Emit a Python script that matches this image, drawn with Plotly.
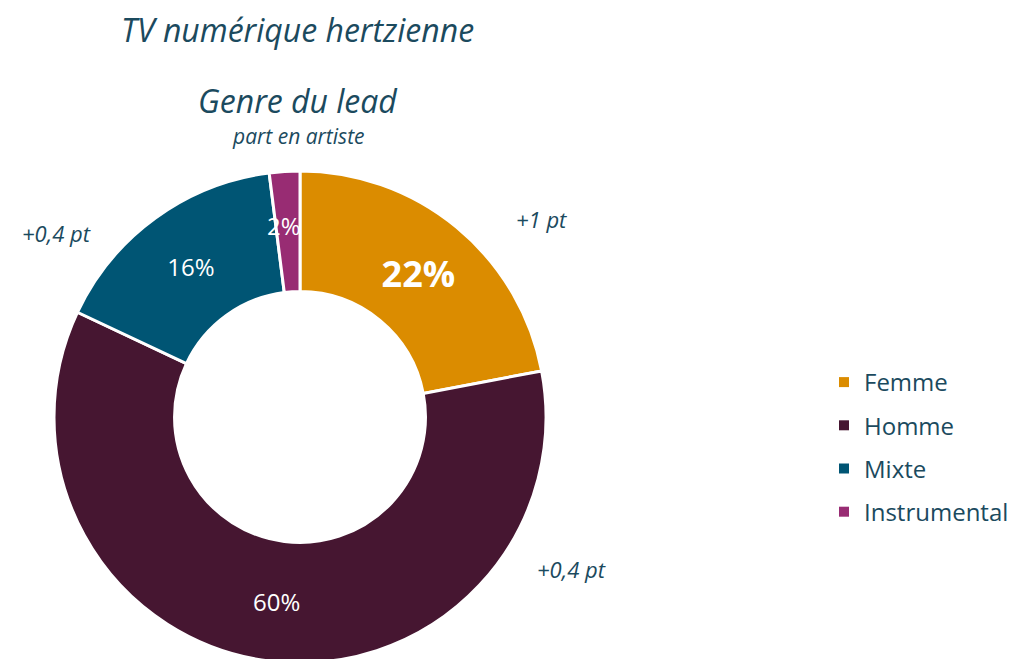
import plotly.graph_objects as go

categories = ["Femme", "Homme", "Mixte", "Instrumental"]
values = [22, 60, 16, 2]
colors = ["#DB8C00", "#461631", "#005574", "#982C73"]
slice_text = ["<b>22%</b>", "60%", "16%", ""]
small_label = "2%"
text_sizes = [36, 24, 24, 24]
evolution = ["+1 pt", "+0,4 pt", "+0,4 pt", ""]

TXT = "#1B4A5E"
FONT = "'Open Sans', sans-serif"

fig = go.Figure()
fig.add_trace(go.Pie(
    labels=categories, values=values, sort=False, direction="clockwise", rotation=0,
    hole=0.51, marker=dict(colors=colors, line=dict(color="white", width=3)),
    text=slice_text, textinfo="text", textposition="inside",
    insidetextorientation="horizontal",
    textfont=dict(color="white", size=text_sizes, family=FONT),
    domain=dict(x=[46 / 1023, 538 / 1023], y=[0.0, 1 - 159 / 659]),
    showlegend=False, hoverinfo="label+percent",
))

# legend entries via dummy traces (to control spacing)
for cat, col in zip(categories, colors):
    fig.add_trace(go.Scatter(
        x=[None], y=[None], mode="markers", name=cat,
        marker=dict(symbol="square", size=10, color=col),
        legendgroup=cat, showlegend=True,
    ))

anns = [
    dict(text="<i>TV numérique hertzienne</i>", x=289, y=22, size=32),
    dict(text="<i>Genre du lead</i>", x=290, y=92, size=32),
    dict(text="<i>part en artiste</i>", x=290, y=128, size=21),
    dict(text="<i>" + evolution[0] + "</i>", x=533, y=211, size=22),
    dict(text="<i>" + evolution[2] + "</i>", x=48, y=225, size=22),
    dict(text="<i>" + evolution[1] + "</i>", x=563, y=561, size=22),
]
annotations = [dict(text=a["text"], x=a["x"] / 1023, y=1 - a["y"] / 659,
                    xref="paper", yref="paper", showarrow=False,
                    xanchor="center", yanchor="middle",
                    font=dict(size=a["size"], color=TXT, family=FONT))
               for a in anns]
annotations.append(dict(text=small_label, x=276 / 1023, y=1 - 217 / 659,
                        xref="paper", yref="paper", showarrow=False,
                        xanchor="center", yanchor="middle",
                        font=dict(size=24, color="white", family=FONT)))

fig.update_layout(
    width=1023, height=659, margin=dict(l=0, r=0, t=0, b=0, autoexpand=False),
    paper_bgcolor="white", plot_bgcolor="white",
    font=dict(family=FONT, color=TXT),
    xaxis=dict(visible=False), yaxis=dict(visible=False),
    legend=dict(x=816 / 1023, y=1 - 439 / 659, xanchor="left", yanchor="middle",
                font=dict(size=24, color=TXT), tracegroupgap=9,
                itemwidth=30, bgcolor="rgba(0,0,0,0)"),
    annotations=annotations,
)
fig.write_html("out.html")
